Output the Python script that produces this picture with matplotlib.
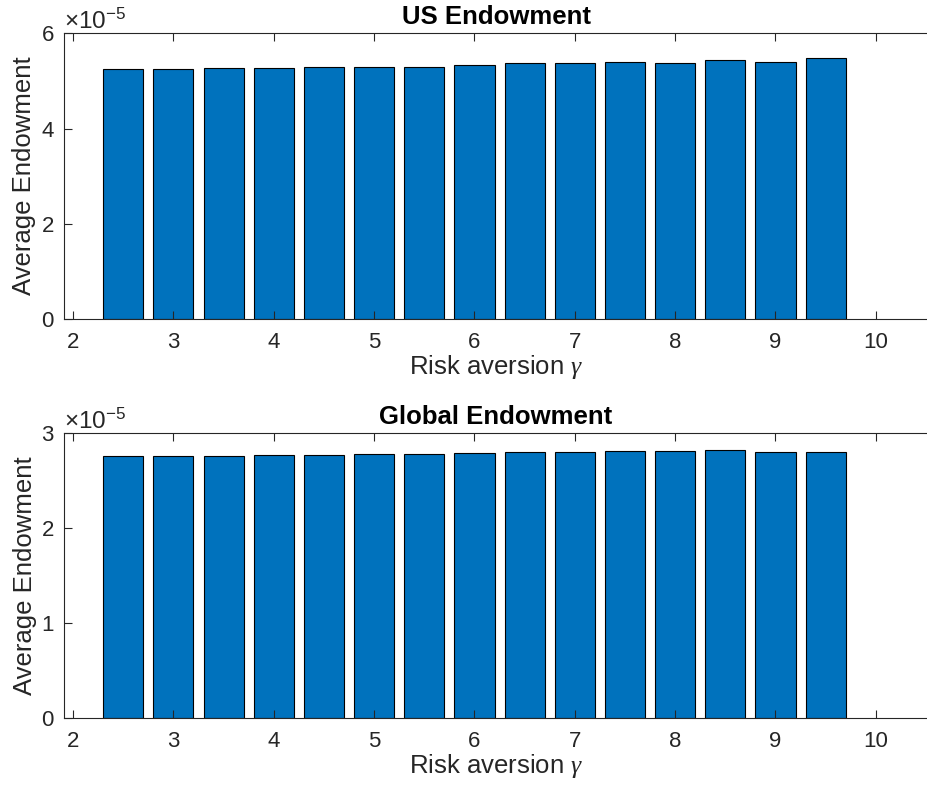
import numpy as np
import matplotlib
matplotlib.use("Agg")
import matplotlib.pyplot as plt
from matplotlib.ticker import ScalarFormatter

plt.rcParams['font.family'] = ['Liberation Sans', 'DejaVu Sans']
plt.rcParams['mathtext.fontset'] = 'custom'
plt.rcParams['mathtext.rm'] = 'Liberation Sans'
plt.rcParams['mathtext.it'] = 'Liberation Serif:italic'

# risk aversion values and average endowments (units of 1e-5)
gamma = [2.5, 3.0, 3.5, 4.0, 4.5, 5.0, 5.5, 6.0, 6.5, 7.0, 7.5, 8.0, 8.5, 9.0, 9.5]
us_endow = [5.25, 5.245, 5.278, 5.278, 5.30, 5.30, 5.30, 5.325, 5.383, 5.383,
            5.404, 5.376, 5.432, 5.404, 5.481]
global_endow = [2.758, 2.758, 2.758, 2.772, 2.772, 2.786, 2.786, 2.789, 2.803,
                2.803, 2.814, 2.814, 2.828, 2.803, 2.803]
scale = 1e-5

GRAY = '#262626'
BLUE = '#0072BD'


def draw_panel(ax, values, title, ymax, yticks):
    vals = np.array(values) * scale
    ax.bar(gamma, vals, width=0.4, color=BLUE, edgecolor='black', linewidth=0.8)
    ax.set_xlim(1.91, 10.52)
    ax.set_ylim(0, ymax * scale)
    ax.set_xticks(range(2, 11))
    ax.set_yticks(np.array(yticks) * scale)
    fmt = ScalarFormatter(useMathText=True)
    fmt.set_powerlimits((0, 0))
    ax.yaxis.set_major_formatter(fmt)
    ax.yaxis.get_offset_text().set_fontsize(17.5)
    ax.yaxis.get_offset_text().set_color(GRAY)
    ax.tick_params(direction='in', length=5.5, width=0.8, colors=GRAY,
                   labelsize=16, top=True, pad=9)
    ax.tick_params(axis='y', pad=7)
    for side in ['left', 'top', 'bottom']:
        ax.spines[side].set_color(GRAY)
        ax.spines[side].set_linewidth(0.8)
    ax.spines['right'].set_visible(False)
    ax.set_title(title, fontsize=18.5, fontweight='bold', pad=7)
    ax.set_xlabel(r'Risk aversion $\gamma$', fontsize=18.5, color=GRAY, labelpad=0)
    ax.set_ylabel('Average Endowment', fontsize=18.5, color=GRAY, labelpad=3)


fig = plt.figure(figsize=(9.28, 7.97), dpi=100)
ax1 = fig.add_axes([0.069, 0.5997, 0.931, 0.3585])
ax2 = fig.add_axes([0.069, 0.0987, 0.931, 0.3576])

draw_panel(ax1, us_endow, 'US Endowment', 6, [0, 2, 4, 6])
draw_panel(ax2, global_endow, 'Global Endowment', 3, [0, 1, 2, 3])

fig.savefig('out.png', dpi=100)
